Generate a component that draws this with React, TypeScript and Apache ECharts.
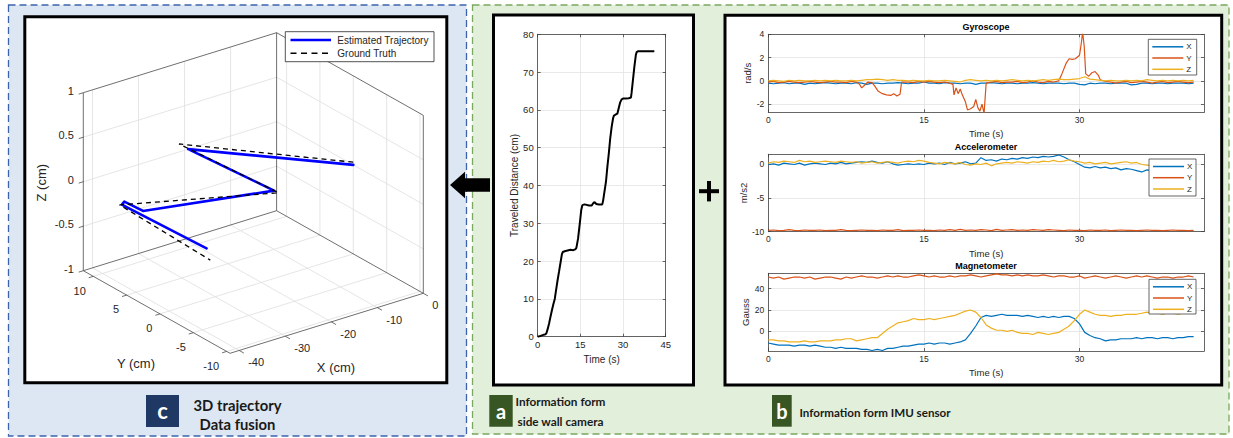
import React, { useEffect, useRef } from "react";
import * as echarts from "echarts";

const W = 1233;
const H = 438;

// ---------------- Panel a : traveled distance ----------------
const DIST_T = [0, 1, 2, 2.6, 3, 3.5, 4, 4.5, 5, 5.5, 6, 6.5, 7, 7.5, 8, 8.5, 8.8, 9.5, 10.5, 11.5, 12.5, 13.2, 13.6, 14.2, 14.8, 15.3, 15.7, 16.5, 18, 19, 19.5, 20, 20.6, 21.5, 22.7, 23, 23.5, 24, 24.5, 25, 25.5, 26, 26.5, 26.8, 27.5, 28, 28.5, 29, 29.5, 30, 31, 32, 32.8, 33, 33.5, 34, 34.5, 34.8, 35.2, 41];
const DIST_V = [0, 0.2, 0.5, 0.6, 0.8, 2, 3.5, 5.3, 7, 8.6, 10, 12.5, 15, 17.2, 19.5, 21.8, 22.4, 22.6, 22.8, 23, 22.9, 23.1, 23.5, 26, 30, 33.5, 34.8, 35, 34.7, 34.7, 35.3, 35.6, 35.1, 35, 35, 36, 38.5, 41, 45, 48.5, 52.5, 55.5, 57.8, 58.5, 58.8, 59, 60.5, 62, 62.8, 63, 63, 63.1, 63.3, 64.5, 68, 71.5, 74.5, 75.3, 75.5, 75.5];

// ---------------- Panel b : IMU ----------------
const IMU_T = [0, 0.5, 1, 1.5, 2, 2.5, 3, 3.5, 4, 4.5, 5, 5.5, 6, 6.5, 7, 7.5, 8, 8.5, 9, 9.5, 10, 10.5, 11, 11.5, 12, 12.5, 13, 13.5, 14, 14.5, 15, 15.5, 16, 16.5, 17, 17.5, 18, 18.5, 19, 19.5, 20, 20.5, 21, 21.5, 22, 22.5, 23, 23.5, 24, 24.5, 25, 25.5, 26, 26.5, 27, 27.5, 28, 28.5, 29, 29.5, 30, 30.5, 31, 31.5, 32, 32.5, 33, 33.5, 34, 34.5, 35, 35.5, 36, 36.5, 37, 37.5, 38, 38.5, 39, 39.5, 40, 40.5, 41];
const IMU_X_TICKS = [0, 15, 30];
const IMU_NAMES = ["X", "Y", "Z"];

const GYRO_X = [
  -0.2, -0.25, -0.2, -0.15, -0.25, -0.2, -0.2, -0.3, -0.2, -0.25,
  -0.2, -0.15, -0.2, -0.25, -0.2, -0.2, -0.25, -0.15, -0.2, -0.3,
  -0.2, -0.2, -0.25, -0.2, -0.2, -0.15, -0.2, -0.25, -0.2, -0.2,
  -0.1, -0.2, -0.2, -0.25, -0.15, -0.2, -0.2, -0.25, -0.2, -0.2,
  -0.3, -0.2, -0.2, -0.15, -0.2, -0.25, -0.2, -0.2, -0.25, -0.2,
  -0.2, -0.15, -0.2, -0.25, -0.2, -0.2, -0.2, -0.25, -0.2, -0.2,
  -0.3, -0.35, -0.2, -0.25, -0.2, -0.2, -0.25, -0.2, -0.2, -0.2,
  -0.35, -0.3, -0.2, -0.2, -0.25, -0.2, -0.2, -0.25, -0.2, -0.2,
  -0.2, -0.25, -0.2,
];
const GYRO_Y = [
  [0, -0.1], [0.5, -0.05], [1, -0.15], [1.5, -0.1], [2, -0.05], [2.5, -0.1], [3, -0.15], [3.5, -0.1], [4, -0.05], [4.5, -0.1],
  [5, -0.15], [5.5, -0.1], [6, -0.05], [6.5, -0.1], [7, -0.1], [7.5, -0.15], [8, -0.05], [8.5, -0.1], [8.8, -0.3], [9, -0.6],
  [9.3, -0.35], [9.6, -0.1], [10, -0.15], [10.3, -0.5], [10.6, -0.9], [11, -1.1], [11.4, -1.2], [11.8, -1.25], [12.1, -1.1], [12.4, -1.3],
  [12.7, -1.15], [12.85, -0.1], [13.5, -0.1], [14, -0.15], [14.5, -0.05], [15, -0.1], [15.5, -0.05], [16, -0.1], [16.5, -0.15], [17, -0.1],
  [17.5, -0.2], [17.8, -0.3], [17.9, -1.2], [18.1, -0.6], [18.3, -1.1], [18.5, -0.7], [18.7, -1.2], [19, -1.8], [19.2, -2.5], [19.5, -2.4],
  [19.8, -2.2], [20, -1.6], [20.2, -2.3], [20.4, -2.6], [20.6, -2.0], [20.8, -2.8], [21, -0.2], [21.5, -0.1], [22, -0.05], [22.5, -0.15],
  [23, -0.1], [23.5, -0.1], [24, -0.05], [24.5, -0.15], [25, -0.1], [25.5, 0], [26, -0.1], [26.5, -0.15], [27, -0.05], [27.5, -0.1],
  [28, 0], [28.3, 0.6], [28.7, 1.5], [29, 1.9], [29.3, 1.85], [29.6, 1.9], [30, 2.2], [30.2, 3.4], [30.3, 4.2], [30.45, 3.0],
  [30.6, 0.6], [30.9, 0.4], [31.2, 0.7], [31.5, 0.8], [31.8, 0.5], [32, 0.1], [32.5, -0.05], [33, -0.1], [33.5, -0.2], [34, -0.1],
  [34.5, -0.05], [35, -0.15], [35.5, -0.1], [36, -0.05], [36.5, -0.1], [37, -0.2], [37.5, -0.1], [38, -0.05], [38.5, -0.15], [39, -0.1],
  [39.5, -0.05], [40, -0.1], [40.5, -0.15], [41, -0.1],
];
const GYRO_Z = [
  0, 0.05, 0, -0.05, 0.05, 0, 0.05, 0, 0, 0.05,
  0, 0.05, 0, 0.05, 0, 0, 0.05, 0, 0.05, 0.1,
  0.1, 0.15, 0.1, 0.05, 0.1, 0.05, 0.05, 0, 0.05, 0,
  0, 0.05, 0, 0, 0.05, 0, -0.05, -0.1, 0.05, 0.1,
  0.05, 0, 0.05, 0, 0.05, 0, 0.05, 0.1, 0.05, 0,
  0.05, 0, 0.05, 0.1, 0.05, 0.1, 0.15, 0.1, 0.1, 0.15,
  0.2, 0.35, 0.15, 0.1, 0.05, 0, 0.05, 0, 0, 0.05,
  0, 0.05, 0, 0.1, 0.05, 0, 0.05, 0, 0.05, 0,
  0.05, 0, 0.05,
];
const GYRO_Y_TICKS = [-2, 0, 2, 4];

const ACC_X = [
  -0.1, 0, -0.2, 0.1, 0, -0.1, 0.1, -0.2, 0, 0.1,
  0, -0.1, 0.1, 0, 0.2, 0, 0.1, 0.2, 0.3, 0.2,
  0.4, 0.2, 0.1, 0.3, 0, -0.2, -0.1, 0, -0.1, 0,
  -0.1, 0.1, 0, 0.1, -0.1, 0.2, 0, 0.1, 0.3, 0,
  0.1, 0.9, 0.5, 0.6, 0.4, 0.7, 0.6, 0.8, 0.7, 0.9,
  0.8, 1.0, 0.9, 1.1, 1.0, 1.1, 1.3, 1.0, 0.6, 0.3,
  -0.1, -0.5, -0.6, -0.4, -0.6, -0.5, -0.7, -0.6, -0.9, -0.7,
  -0.8, -1.0, -1.2, -0.9, -1.0, -0.8, -0.9, -1.0, -0.8, -0.9,
  -1.0, -0.8, -0.9,
];
const ACC_Y = [
  -9.8, -9.75, -9.85, -9.8, -9.7, -9.8, -9.85, -9.75, -9.8, -9.8,
  -9.75, -9.85, -9.8, -9.8, -9.7, -9.8, -9.85, -9.8, -9.75, -9.8,
  -9.8, -9.85, -9.75, -9.8, -9.8, -9.7, -9.85, -9.8, -9.8, -9.75,
  -9.8, -9.8, -9.85, -9.75, -9.8, -9.7, -9.8, -9.65, -9.8, -9.75,
  -9.8, -9.7, -9.75, -9.85, -9.65, -9.8, -9.75, -9.7, -9.8, -9.75,
  -9.8, -9.7, -9.75, -9.8, -9.7, -9.75, -9.8, -9.85, -9.75, -9.8,
  -9.8, -9.85, -9.75, -9.8, -9.8, -9.75, -9.85, -9.8, -9.75, -9.8,
  -9.8, -9.85, -9.8, -9.75, -9.8, -9.8, -9.85, -9.8, -9.75, -9.8,
  -9.8, -9.85, -9.8,
];
const ACC_Z = [
  0.1, 0.3, 0.2, 0.4, 0.3, 0.2, 0.5, 0.3, 0.4, 0.2,
  0.3, 0.4, 0.3, 0.2, 0.4, 0.3, 0.2, 0.3, 0.1, 0.2,
  0.3, 0.1, 0.2, 0.3, 0.2, 0.1, 0.3, 0.4, 0.3, 0.5,
  0.4, 0.2, 0.1, 0, 0.2, 0.1, 0, 0.2, -0.1, -0.2,
  0, -0.1, 0.1, -0.3, 0, 0.1, 0.2, 0.1, 0.3, 0.2,
  0.1, 0.3, 0.2, 0.4, 0.3, 0.5, 0.3, 0.4, 0.6, 0.4,
  0.3, 0.1, 0.2, 0, 0.1, 0.2, 0, 0.1, 0.2, 0.3,
  0.1, 0.2, -0.1, -0.2, -0.3, -0.2, -0.1, -0.2, -0.3, -0.2,
  -0.2, -0.3, -0.2,
];
const ACC_Y_TICKS = [-10, -5, 0];

const MAG_X = [
  -11, -12, -13, -13, -13, -14, -13, -13, -14, -13,
  -14, -15, -15, -16, -15, -16, -16, -16, -17, -17,
  -18, -17, -18, -16, -16, -15, -14, -14, -13, -12,
  -12, -11, -12, -11, -11, -12, -11, -10, -8, -2,
  5, 13, 15, 14, 15, 16, 15, 15, 15, 14,
  15, 14, 13, 14, 13, 14, 13, 14, 14, 12,
  7, -1, -4, -6, -7, -9, -8, -8, -7, -7,
  -7, -6, -7, -6, -6, -7, -6, -6, -7, -6,
  -6, -5, -5,
];
const MAG_Y = [
  51, 50, 51, 49, 50, 51, 51, 50, 51, 49,
  50, 51, 51, 50, 49, 51, 50, 51, 52, 51,
  51, 50, 51, 52, 51, 52, 51, 51, 52, 53,
  52, 51, 52, 51, 51, 52, 51, 52, 52, 53,
  52, 51, 52, 53, 54, 53, 53, 52, 53, 52,
  53, 52, 52, 53, 52, 51, 52, 52, 51, 51,
  52, 50, 51, 52, 51, 50, 51, 52, 51, 50,
  51, 52, 51, 52, 51, 50, 51, 51, 50, 51,
  51, 52, 51,
];
const MAG_Z = [
  -8, -8, -9, -9, -10, -10, -10, -9, -10, -10,
  -9, -9, -9, -8, -8, -7, -7, -9, -8, -7,
  -6, -6, -2, 2, 5, 8, 9, 10, 12, 11,
  11, 12, 11, 12, 13, 14, 15, 17, 19, 20,
  18, 13, 6, 3, 1, 1, 0, 1, -1, -2,
  -2, -3, -1, -2, -3, -2, -1, 2, 5, 10,
  16, 20, 18, 16, 15, 15, 14, 15, 15, 16,
  16, 16, 17, 18, 17, 17, 16, 17, 17, 16,
  17, 17, 17,
];
const MAG_Y_TICKS = [0, 20, 40];

// ---------------- Panel c : 3D trajectory ----------------
const X_LIM = [-42, 0];
const Y_LIM = [-10.5, 11.5];
const Z_LIM = [-1, 1];
const X3_TICKS = [-40, -30, -20, -10, 0];
const Y3_TICKS = [-10, -5, 0, 5, 10];
const Z3_TICKS = [-1, -0.5, 0, 0.5, 1];
const TRAJ_EST = [
  [0, 0, 0], [-19.2, 11.5, 0], [-17.5, -0.2, 0], [-40.9, 3.3, 0], [-41.2, 5.9, 0],
  [-42.3, 5.5, 0], [-42.2, 4.0, 0], [-41.3, -6.5, 0],
];
const TRAJ_GT = [
  [0, 0, 0.03], [-21.2, 11.5, 0.09], [-17.4, -0.8, 0], [-41.8, 6.2, -0.04], [-41.5, -7.2, -0.1],
];

// ---------------- styling ----------------
const FONT = '"Liberation Sans", Arial, Helvetica, sans-serif';
const LFONT = 'Lato, "Open Sans", sans-serif';
const AX = "#404040";
const GRIDC = "#e3e3e3";
const C_X = "#0072BD";
const C_Y = "#D95319";
const C_Z = "#EDB120";

// 3D view: screen position of corner (Xmin, Ymin, Zmin) and screen vectors spanning each axis range
const VIEW = { o: [230, 353.3], vx: [193.3, -60], vy: [-146.7, -82.6], vz: [0, -178] };
function proj(p: number[]): number[] {
  const nx = (p[0] - X_LIM[0]) / (X_LIM[1] - X_LIM[0]);
  const ny = (p[1] - Y_LIM[0]) / (Y_LIM[1] - Y_LIM[0]);
  const nz = (p[2] - Z_LIM[0]) / (Z_LIM[1] - Z_LIM[0]);
  return [
    VIEW.o[0] + nx * VIEW.vx[0] + ny * VIEW.vy[0] + nz * VIEW.vz[0],
    VIEW.o[1] + nx * VIEW.vx[1] + ny * VIEW.vy[1] + nz * VIEW.vz[1],
  ];
}

function inside(v: number, lim: number[]) {
  return v > lim[0] + 1e-9 && v < lim[1] - 1e-9;
}

function build3DSegments() {
  const [x0, x1] = X_LIM, [y0, y1] = Y_LIM, [z0, z1] = Z_LIM;
  const grid: number[][][] = [];
  X3_TICKS.filter((x) => inside(x, X_LIM)).forEach((x) => {
    grid.push([[x, y1, z0], [x, y1, z1]]);
    grid.push([[x, y0, z0], [x, y1, z0]]);
  });
  Y3_TICKS.filter((y) => inside(y, Y_LIM)).forEach((y) => {
    grid.push([[x1, y, z0], [x1, y, z1]]);
    grid.push([[x0, y, z0], [x1, y, z0]]);
  });
  Z3_TICKS.filter((z) => inside(z, Z_LIM)).forEach((z) => {
    grid.push([[x0, y1, z], [x1, y1, z]]);
    grid.push([[x1, y0, z], [x1, y1, z]]);
  });
  const box: number[][][] = [
    [[x0, y1, z0], [x0, y1, z1]],
    [[x0, y1, z1], [x1, y1, z1]],
    [[x1, y1, z0], [x1, y1, z1]],
    [[x1, y1, z1], [x1, y0, z1]],
    [[x1, y0, z0], [x1, y0, z1]],
    [[x0, y1, z0], [x1, y1, z0]],
    [[x1, y1, z0], [x1, y0, z0]],
    [[x0, y1, z0], [x0, y0, z0]],
    [[x0, y0, z0], [x1, y0, z0]],
  ];
  const ticks: number[][][] = [];
  Z3_TICKS.forEach((z) => ticks.push([[x0, y1, z], [x0 - 1, y1, z]]));
  Y3_TICKS.forEach((y) => ticks.push([[x0, y, z0], [x0 - 1, y, z0]]));
  X3_TICKS.forEach((x) => ticks.push([[x, y0, z0], [x, y0 - 0.7, z0]]));
  return { grid, box, ticks };
}

function segSeries(segs: number[][][], color: string, width: number, z: number) {
  return {
    type: "custom",
    xAxisIndex: 0,
    yAxisIndex: 0,
    z,
    silent: true,
    clip: false,
    renderItem: (_params: any, api: any) => {
      const a = api.coord([api.value(0), api.value(1)]);
      const b = api.coord([api.value(2), api.value(3)]);
      return {
        type: "line",
        shape: { x1: a[0], y1: a[1], x2: b[0], y2: b[1] },
        style: { stroke: color, lineWidth: width },
      };
    },
    encode: { x: [0, 2], y: [1, 3] },
    data: segs.map(([p, q]) => [...proj(p), ...proj(q)]),
  };
}

type AxCfg = {
  grid: number;
  min: number;
  max: number;
  interval?: number;
  ticks?: number[];
  name?: string;
  nameGap?: number;
  nameSize?: number;
  labelSize: number;
};

function axisPair(kind: "x" | "y", c: AxCfg) {
  const lineStyle = { color: AX, width: 0.8 };
  const tick: any = { show: true, inside: true, length: 3, lineStyle };
  const label: any = { fontSize: c.labelSize, color: "#262626", fontFamily: FONT, margin: kind === "x" ? 3 : 4 };
  if (c.ticks) {
    tick.customValues = c.ticks;
    label.customValues = c.ticks;
  }
  const main: any = {
    type: "value",
    gridIndex: c.grid,
    min: c.min,
    max: c.max,
    position: kind === "x" ? "bottom" : "left",
    axisLine: { show: true, onZero: false, lineStyle },
    axisTick: tick,
    axisLabel: label,
    splitLine: { show: true, lineStyle: { color: GRIDC, width: 0.8 } },
  };
  if (c.interval) main.interval = c.interval;
  if (c.name) {
    main.name = c.name;
    main.nameLocation = "middle";
    main.nameGap = c.nameGap;
    main.nameTextStyle = { fontSize: c.nameSize || 9.5, color: "#262626", fontFamily: FONT };
  }
  const mirror: any = {
    type: "value",
    gridIndex: c.grid,
    min: c.min,
    max: c.max,
    position: kind === "x" ? "top" : "right",
    axisLine: { show: true, onZero: false, lineStyle },
    axisTick: { ...tick },
    axisLabel: { show: false },
    splitLine: { show: false },
  };
  if (c.interval) mirror.interval = c.interval;
  return [main, mirror];
}

function imuSeries(xi: number, values: any[], color: string, name: string, pairs = false) {
  return {
    type: "line",
    name,
    xAxisIndex: xi,
    yAxisIndex: xi,
    symbol: "none",
    clip: true,
    lineStyle: { color, width: 1.2 },
    data: pairs ? values : IMU_T.map((t, i) => [t, values[i]]),
  };
}

function imuLegend(left: number, top: number, width: number, height: number) {
  const colors = [C_X, C_Y, C_Z];
  const rowY = [7.5, 18.7, 30];
  const els: any[] = [
    {
      type: "rect",
      z: 100,
      shape: { x: left, y: top, width, height },
      style: { fill: "#ffffff", stroke: AX, lineWidth: 0.8 },
    },
  ];
  IMU_NAMES.forEach((n, i) => {
    els.push({
      type: "line",
      z: 101,
      shape: { x1: left + 4, y1: top + rowY[i], x2: left + 35, y2: top + rowY[i] },
      style: { stroke: colors[i], lineWidth: 1.5 },
    });
    els.push({
      type: "text",
      z: 101,
      x: left + 38,
      y: top + rowY[i],
      style: { text: n, fill: "#262626", fontSize: 8, fontFamily: FONT, align: "left", verticalAlign: "middle" },
    });
  });
  return els;
}

function text(t: string, x: number, y: number, o: any = {}) {
  const { rotation, z, ...style } = o;
  return {
    type: "text",
    x,
    y,
    z: z ?? 50,
    rotation: rotation || 0,
    style: {
      text: t,
      fill: "#262626",
      fontSize: 10,
      fontFamily: FONT,
      align: "center",
      verticalAlign: "middle",
      ...style,
    },
  };
}

export default function App() {
  const ref = useRef<HTMLDivElement>(null);

  useEffect(() => {
    if (!ref.current) return;
    const chart = echarts.init(ref.current, undefined, { renderer: "svg" });
    const segs = build3DSegments();

    const grids = [
      { left: 0, top: 0, width: W, height: H },
      { left: 537.7, top: 34.3, width: 128, height: 302.4 },
      { left: 768.3, top: 34.3, width: 435.7, height: 78 },
      { left: 768.3, top: 154.3, width: 435.7, height: 77.4 },
      { left: 768.3, top: 273.3, width: 435.7, height: 77.7 },
    ].map((g) => ({ ...g, outerBoundsMode: "none", containLabel: false }));

    const xAxes: any[] = [
      { type: "value", gridIndex: 0, min: 0, max: W, show: false },
      ...axisPair("x", { grid: 1, min: 0, max: 45, interval: 15, name: "Time (s)", nameGap: 13, nameSize: 10, labelSize: 9.5 }),
      ...axisPair("x", { grid: 2, min: 0, max: 42, ticks: IMU_X_TICKS, name: "Time (s)", nameGap: 16.5, labelSize: 8.5 }),
      ...axisPair("x", { grid: 3, min: 0, max: 42, ticks: IMU_X_TICKS, name: "Time (s)", nameGap: 16.5, labelSize: 8.5 }),
      ...axisPair("x", { grid: 4, min: 0, max: 42, ticks: IMU_X_TICKS, name: "Time (s)", nameGap: 16.5, labelSize: 8.5 }),
    ];
    const yAxes: any[] = [
      { type: "value", gridIndex: 0, min: 0, max: H, inverse: true, show: false },
      ...axisPair("y", { grid: 1, min: 0, max: 80, interval: 10, name: "Traveled Distance (cm)", nameGap: 17.5, nameSize: 10, labelSize: 9.5 }),
      ...axisPair("y", { grid: 2, min: -2.7, max: 4, ticks: GYRO_Y_TICKS, name: "rad/s", nameGap: 12.5, labelSize: 8.5 }),
      ...axisPair("y", { grid: 3, min: -10, max: 1.4, ticks: ACC_Y_TICKS, name: "m/s2", nameGap: 18.5, labelSize: 8.5 }),
      ...axisPair("y", { grid: 4, min: -18.5, max: 54.5, ticks: MAG_Y_TICKS, name: "Gauss", nameGap: 15.5, labelSize: 8.5 }),
    ];
    const GX = 3, AXI = 5, MX = 7;

    const series: any[] = [
      segSeries(segs.grid, "#dedede", 0.8, 1),
      segSeries(segs.box, "#4a4a4a", 0.8, 2),
      segSeries(segs.ticks, "#4a4a4a", 0.8, 2),
      {
        type: "line",
        name: "Estimated Trajectory",
        xAxisIndex: 0,
        yAxisIndex: 0,
        symbol: "none",
        z: 5,
        lineStyle: { color: "#0000ff", width: 2.6, cap: "round", join: "round" },
        data: TRAJ_EST.map(proj),
      },
      {
        type: "line",
        name: "Ground Truth",
        xAxisIndex: 0,
        yAxisIndex: 0,
        symbol: "none",
        z: 6,
        lineStyle: { color: "#000000", width: 1.3, type: [5, 4] },
        data: TRAJ_GT.map(proj),
      },
      {
        type: "line",
        name: "Traveled Distance",
        xAxisIndex: 1,
        yAxisIndex: 1,
        symbol: "none",
        lineStyle: { color: "#000000", width: 2 },
        data: DIST_T.map((t, i) => [t, DIST_V[i]]),
      },
      imuSeries(GX, GYRO_X, C_X, "X"),
      imuSeries(GX, GYRO_Y, C_Y, "Y", true),
      imuSeries(GX, GYRO_Z, C_Z, "Z"),
      imuSeries(AXI, ACC_X, C_X, "X"),
      imuSeries(AXI, ACC_Y, C_Y, "Y"),
      imuSeries(AXI, ACC_Z, C_Z, "Z"),
      imuSeries(MX, MAG_X, C_X, "X"),
      imuSeries(MX, MAG_Y, C_Y, "Y"),
      imuSeries(MX, MAG_Z, C_Z, "Z"),
    ];

    // 3D axis text
    const g3: any[] = [];
    Z3_TICKS.forEach((z) => {
      const p = proj([X_LIM[0], Y_LIM[1], z]);
      g3.push(text(String(z), p[0] - 9.5, p[1] - 2, { fontSize: 11, align: "right" }));
    });
    Y3_TICKS.forEach((y) => {
      const p = proj([X_LIM[0], y, Z_LIM[0]]);
      g3.push(text(String(y), p[0] - 7.5, p[1] + 14.3, { fontSize: 11, align: "right" }));
    });
    X3_TICKS.forEach((x) => {
      const p = proj([x, Y_LIM[0], Z_LIM[0]]);
      g3.push(text(String(x), p[0] + 9, p[1] + 12, { fontSize: 11, align: "left" }));
    });
    g3.push(text("Z (cm)", 41.7, 182.7, { fontSize: 13, rotation: Math.PI / 2 }));
    g3.push(text("Y (cm)", 136, 363.3, { fontSize: 13 }));
    g3.push(text("X (cm)", 336, 367.5, { fontSize: 13 }));
    // 3D legend
    g3.push({ type: "rect", z: 100, shape: { x: 285.3, y: 31.7, width: 148.7, height: 30 }, style: { fill: "#fff", stroke: "#262626", lineWidth: 0.8 } });
    g3.push({ type: "line", z: 101, shape: { x1: 290.5, y1: 40, x2: 331, y2: 40 }, style: { stroke: "#0000ff", lineWidth: 2.6 } });
    g3.push({ type: "line", z: 101, shape: { x1: 290.5, y1: 53.3, x2: 329, y2: 53.3 }, style: { stroke: "#000", lineWidth: 1.6, lineDash: [6, 4.5] } });
    g3.push(text("Estimated Trajectory", 337.3, 40, { align: "left", z: 101 }));
    g3.push(text("Ground Truth", 337.3, 53.3, { align: "left", z: 101 }));

    const graphic: any[] = [
      // panel backgrounds
      { type: "rect", z: -100, shape: { x: 8.5, y: 5, width: 458, height: 431 }, style: { fill: "#dde7f3", stroke: "#3c64ad", lineWidth: 1.3, lineDash: [7, 4] } },
      { type: "rect", z: -100, shape: { x: 472.5, y: 5, width: 756.5, height: 429 }, style: { fill: "#e2efda", stroke: "#7aa860", lineWidth: 1.3, lineDash: [7, 4] } },
      // white framed boxes
      { type: "rect", z: -90, shape: { x: 24.8, y: 16.8, width: 422, height: 366 }, style: { fill: "#ffffff", stroke: "#000", lineWidth: 3 } },
      { type: "rect", z: -90, shape: { x: 493.5, y: 15, width: 200, height: 370 }, style: { fill: "#ffffff", stroke: "#000", lineWidth: 3 } },
      { type: "rect", z: -90, shape: { x: 725, y: 15.3, width: 496.7, height: 369.7 }, style: { fill: "#ffffff", stroke: "#000", lineWidth: 3 } },
      // arrow
      { type: "polygon", z: 10, shape: { points: [[450, 185], [465, 171.7], [465, 178.3], [490, 178.3], [490, 191.7], [465, 191.7], [465, 198.3]] }, style: { fill: "#000" } },
      // plus
      { type: "rect", z: 10, shape: { x: 699, y: 189.2, width: 20, height: 4 }, style: { fill: "#000" } },
      { type: "rect", z: 10, shape: { x: 707, y: 181, width: 4, height: 20.4 }, style: { fill: "#000" } },
      // label badges
      { type: "rect", z: 10, shape: { x: 146, y: 395, width: 33, height: 32 }, style: { fill: "#1f3864" } },
      text("c", 162.5, 410.5, { fill: "#fff", fontSize: 22, fontWeight: "bold", fontFamily: LFONT }),
      text("3D trajectory", 237.5, 404.5, { fill: "#1a1a1a", fontSize: 14.8, fontWeight: "bold", fontFamily: LFONT }),
      text("Data fusion", 237.5, 424, { fill: "#1a1a1a", fontSize: 14.8, fontWeight: "bold", fontFamily: LFONT }),
      { type: "rect", z: 10, shape: { x: 489.3, y: 395, width: 23.4, height: 31.7 }, style: { fill: "#375623" } },
      text("a", 501, 410.5, { fill: "#fff", fontSize: 20, fontWeight: "bold", fontFamily: LFONT }),
      text("Information form", 560.5, 401.7, { fill: "#1a1a1a", fontSize: 11.8, fontWeight: "bold", fontFamily: LFONT }),
      text("side wall camera", 560.5, 421, { fill: "#1a1a1a", fontSize: 11.8, fontWeight: "bold", fontFamily: LFONT }),
      { type: "rect", z: 10, shape: { x: 772, y: 395, width: 19.7, height: 31.7 }, style: { fill: "#375623" } },
      text("b", 781.8, 410.5, { fill: "#fff", fontSize: 20, fontWeight: "bold", fontFamily: LFONT }),
      text("Information form IMU sensor", 799.5, 412.3, { fill: "#1a1a1a", fontSize: 11.6, fontWeight: "bold", fontFamily: LFONT, align: "left" }),
      // IMU titles
      text("Gyroscope", 986, 27.3, { fill: "#000", fontSize: 9, fontWeight: "bold" }),
      text("Accelerometer", 986, 147.3, { fill: "#000", fontSize: 9, fontWeight: "bold" }),
      text("Magnetometer", 986, 266.3, { fill: "#000", fontSize: 9, fontWeight: "bold" }),
      ...imuLegend(1148.3, 39.3, 48.4, 35.7),
      ...imuLegend(1149, 159, 47, 37),
      ...imuLegend(1149, 279.3, 47, 34.7),
      ...g3,
    ];

    chart.setOption({
      animation: false,
      backgroundColor: "#ffffff",
      grid: grids,
      xAxis: xAxes,
      yAxis: yAxes,
      series,
      graphic: { elements: graphic },
    });
    return () => chart.dispose();
  }, []);

  return (
    <div style={{ position: "absolute", left: 0, top: 0, width: W, height: H }}>
      <div ref={ref} style={{ width: W, height: H }} />
    </div>
  );
}
